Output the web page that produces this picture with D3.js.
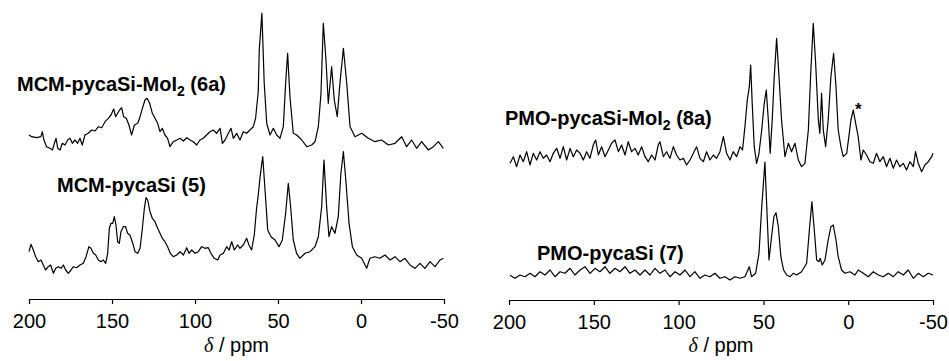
<!DOCTYPE html>
<html>
<head>
<meta charset="utf-8">
<script src="https://cdn.jsdelivr.net/npm/d3@7"></script>
<style>
  body { margin: 0; background: #fff; }
  text { font-family: "Liberation Sans", Arial, sans-serif; fill: #000; }
</style>
</head>
<body>
<div id="chart"></div>
<script>
// chemical shift axis (ppm) shared by both panels
const ppmTicks = [200, 150, 100, 50, 0, -50];

// spectra as [ppm, intensity] pairs, intensity in arbitrary units above each trace's own baseline
const spec6a = [[200,5],[198.4,3.3],[195.4,2.3],[192.8,3.3],[192,8.3],[191,0],[189.4,-6.7],[187.4,-8.3],[185.9,-10],[184.7,-3.3],
  [183.7,1.7],[182.7,-8.3],[181.3,-10],[179.9,-3.3],[178.3,-5],[176.7,0],[175.3,1.7],[173.9,-3.3],[172.3,0],[170.7,-3.3],
  [169.3,1.7],[167.9,-5],[166.3,5],[164.3,6.7],[162.2,10],[160.2,9],[158.2,13.3],[156.2,12.3],[154.2,18.3],[152.2,21.7],
  [150.6,25],[149,31],[147.8,23.3],[146.6,26.7],[145.4,30],[144.2,32.3],[143,23.3],[141.4,21.7],[139.8,15],[138.2,5],
  [136.5,15],[134.5,16.7],[133.1,23.3],[131.7,31.7],[130.1,40],[128.9,41.7],[127.3,36.7],[125.7,26.7],[124.1,21.7],[122.5,16.7],
  [121.1,8.3],[119.7,11.7],[118.1,5],[116.5,1.7],[115.1,-6.7],[113.1,-1.7],[111,0],[109,1.7],[107,-1],[105,2.3],
  [103,0],[101,-1.7],[99,-5],[97,0],[95,1.7],[93,5],[91,8.3],[89,10],[87,6.7],[84.9,11.7],
  [83.5,-3.3],[81.9,0],[79.9,6.7],[78.3,11.7],[76.9,1.7],[74.9,6.7],[72.9,0],[70.9,8.3],[68.9,6.7],[66.9,10],
  [64.9,13.3],[63.5,21.7],[61.9,48.3],[61.3,90],[59.7,126.7],
  [58.3,56.7],[56.8,16.7],[54.8,5],[52.8,11.7],[50.8,5],[48.8,1.7],[46.8,13.3],[45.4,56.7],[44.2,86.7],[42.8,43.3],
  [40.8,6.7],[38.8,5],[35.7,0],[32.7,-6.7],[29.7,-5],[27.7,-1.7],[25.7,13.3],[24.1,46.7],[22.7,116.7],[21.1,80],
  [19.7,36.7],[17.7,73.3],[16.1,40],[14.3,23.3],[12.7,56.7],[10.6,91.7],[8.6,56.7],[6.6,13.3],[3.6,3.3],[-0.4,6.7],
  [-4.4,1.7],[-8.4,-1.7],[-12.4,0],[-16.5,-5],[-20.5,-3.3],[-24.5,3.3],[-27.5,-6.7],[-30.5,0],[-33.5,-8.3],[-36.5,-1.7],
  [-40.6,-10],[-43.6,-6.7],[-46.6,-1.7],[-49.6,-8.3]];

const spec5 = [[200,6.3],[198.8,13.7],[197.4,8],[196,1.3],[194.4,-3.7],[192.8,-2],[191.4,-7],[190,-12],[188.4,-8.7],[187,-7],
  [185.3,-15.3],[183.9,-10.3],[182.3,-8.7],[180.7,-10.3],[179.3,-7],[177.9,-12],[176.3,-15.3],[174.7,-12],[173.3,-8.7],[171.3,-9.7],
  [169.3,-7],[167.3,-5.3],[165.7,1],[163.9,11.3],[162.7,9.7],[161.2,4.7],[159.8,3],[158.2,-2],[156.6,-3.7],[155.2,-2],
  [153.8,-5.3],[152.6,4.7],[151.6,29.7],[150.6,34.7],[149.6,34.7],[148.6,41.3],[147.6,33],[146.6,16.3],[145.6,14.7],[144.6,26.3],
  [143.2,31.3],[141.8,31.3],[140.6,24.7],[139.2,23],[137.8,16.3],[136.1,6.3],[134.5,4.7],[133.1,9.7],[131.7,29.7],[130.5,49.7],
  [129.5,60.3],[128.5,58],[127.1,46.3],[125.7,39.7],[124.1,36.3],[122.5,29.7],[121.1,24.7],[119.7,19.7],[118.1,16.3],[116.5,11.3],
  [114.9,4.7],[113.1,1.3],[111,3],[109,6.3],[107,3],[105,10.3],[103.6,4.7],[102,8],[100,4.7],[98,6.3],
  [96,11.3],[94,9.7],[92,10.3],[90.4,4.7],[88.4,-0.3],[86.3,-2],[84.9,3],[82.9,4.7],[80.9,11.3],[79.5,8],
  [77.9,16.3],[76.3,8],[74.3,13],[72.9,9.7],[70.9,13],[68.9,19.7],[67.5,13],[65.9,8],[64.3,23],[62.9,49.7],
  [61.9,63],[60.8,81.3],[59.2,101.3],[57.8,68],[56.2,28],[54.2,21.3],[51.8,18],[49.4,11.3],[47.4,18],[45.4,44.7],[43.8,74.7],
  [42.4,51.3],[40.8,18],[38.8,4.7],[36.8,-0.3],[33.7,4.7],[30.7,6.3],[27.7,11.3],[25.7,21.3],[23.7,51.3],[22.3,98],
  [20.7,51.3],[19.3,21.3],[17.7,31.3],[15.7,24.7],[13.7,41.3],[12.1,84.7],[10.6,106.3],[9,74.7],[7.2,34.7],[5.2,11.3],
  [2.6,3],[-0.4,-0.3],[-3.4,-10.3],[-5.4,-0.3],[-8.4,1.3],[-11.4,-0.3],[-14.4,3],[-17.5,-2],[-20.5,1.3],[-23.5,-3.7],
  [-26.5,-0.3],[-29.5,-7],[-32.5,-10.3],[-35.5,-5.3],[-38.5,-10.3],[-41.6,-3.7],[-44.6,-8.7],[-47.6,-2],[-49.6,-0.3]];

const spec8a = [[199.4,-8.3],[197.4,-1.7],[195.5,-11.7],[193.5,0],[191.6,-6.7],[189.6,3.3],[187.6,-10],[185.7,1.7],[183.7,-5],[181.7,3.3],
  [179.8,-3.3],[177.8,0],[175.8,-6.7],[173.9,1.7],[171.9,6.7],[169.9,-3.3],[168,8.3],[166,-5],[164,6.7],[162.1,-1.7],
  [160.1,5],[158.1,1.7],[156.2,-5],[154.2,3.3],[152.3,-3.3],[150.3,10],[148.9,15],[147.3,0],[145.4,8.3],[143.4,-1.7],
  [141.4,5],[139.5,11.7],[137.5,15],[135.5,3.3],[133.6,10],[131.6,0],[129.7,13.3],[127.7,3.3],[125.7,6.7],[123.8,0],
  [121.8,8.3],[119.8,-1.7],[117.9,-6.7],[115.9,0],[113.9,-5],[112,10],[111,13.3],[109,-1.7],[107.1,3.3],[105.1,-3.3],
  [103.1,8.3],[101.2,0],[99.2,-5],[97.2,-3.3],[95.3,-10],[93.3,-5],[91.3,1.7],[89.4,8.3],[87.4,-3.3],[85.4,-6.7],
  [83.5,3.3],[81.5,-5],[79.5,0],[77.6,-3.3],[75.6,3.3],[73.6,18.3],[71.7,1.7],[69.7,-5],[67.8,3.3],[65.8,-1.7],
  [63.8,8.3],[62.3,5],[60.9,28.3],[59.5,55],[58.3,68.3],[57.5,90],[56.6,51.7],[55.4,8.3],[54,-8.3],[52.6,1.7],
  [51,25],[49.5,51.7],[48.3,65],[47.1,35],[46,1.7],[44.8,35],[43.6,78.3],[42.2,116.7],[40.8,78.3],[39.3,35],
  [37.3,-1.7],[35.3,11.7],[33.4,3.3],[31.4,11.7],[29.4,-5],[27.5,-11.7],[25.5,-8.3],[23.5,25],[22,85],[20.6,131.7],
  [19.2,91.7],[17.6,35],[16.7,21.7],[15.7,61.7],[14.7,25],[13.3,8.3],[11.8,35],[10.2,78.3],[8.6,101.7],[7.2,68.3],
  [5.9,25],[4.3,8.3],[2.9,-1.7],[0.9,1.7],[-0.4,18.3],[-1.6,35],[-3,45],[-4.4,31.7],[-5.9,18.3],[-7.5,-5],
  [-8.9,5],[-10.8,0],[-12.8,-6.7],[-14.8,-8.3],[-16.7,1.7],[-18.7,-6.7],[-20.7,-1.7],[-22.6,-11.7],[-24.6,-3.3],[-26.6,-13.3],
  [-28.5,-5],[-30.5,-11.7],[-32.5,-8.3],[-34.4,-15],[-36.4,-6.7],[-38.4,-11.7],[-39.7,3.3],[-41.3,-8.3],[-43.3,-16.7],[-45.2,-10],
  [-47.2,-6.7],[-49.2,-1.7],[-50,1.7]];

const spec7 = [[199.4,0.7],[196.5,-2.3],[193.5,1],[190.6,-0.7],[187.6,2.7],[184.7,-0.7],[181.7,4.3],[178.8,1],[175.8,6],[172.9,-0.7],
  [169.9,4.3],[167,2.7],[164,7.7],[161.1,1],[158.1,6],[155.2,9.3],[152.2,2.7],[149.3,7.7],[146.4,4.3],[143.4,9.3],
  [140.5,2.7],[137.5,7.7],[134.6,4.3],[131.6,9.3],[128.7,2.7],[125.7,6],[122.8,1],[119.8,6],[116.9,1],[113.9,7.7],
  [111,2.7],[108,6],[105.1,-0.7],[102.1,4.3],[99.2,1],[96.2,6],[93.3,-0.7],[90.4,4.3],[87.4,-2.3],[84.5,1],
  [81.5,-0.7],[78.6,2.7],[75.6,-2.3],[72.7,-0.7],[69.7,-4],[66.8,-0.7],[63.8,-2.3],[60.9,-0.7],[58.3,9.3],[57,-0.7],
  [54.6,2.7],[52.6,22.7],[51.1,66],[49.1,114],[48.1,72.7],[46.7,16],[45.2,39.3],[43.8,59.3],[42.6,63.3],[41.2,49.3],
  [39.7,19.3],[38.1,6],[36.3,1],[34.3,-0.7],[32.4,2.7],[30.4,1],[27.5,4.3],[24.5,12.7],[22.9,46],[21.4,74.3],
  [20,46],[18.6,16],[17.3,14.3],[16.5,17.7],[15.3,11],[13.7,16],[11.8,36],[10.2,49.3],[8.8,51],[7.2,36],
  [5.9,19.3],[3.9,6],[1.9,2.7],[-1,4.3],[-4,1],[-5.9,6],[-8.9,2.7],[-11.8,-0.7],[-14.8,4.3],[-17.7,1],
  [-20.7,-0.7],[-23.6,2.7],[-26.6,-0.7],[-29.5,4.3],[-32.5,1],[-35.4,6],[-38.4,-2.3],[-41.3,2.7],[-44.3,-0.7],[-47.2,2.7],
  [-50,1]];

const W = 949, H = 361;

const svg = d3.select('#chart')
  .append('svg')
  .attr('width', W)
  .attr('height', H);

svg.append('rect').attr('width', W).attr('height', H).attr('fill', '#fff');

// the two panels: each has its own ppm scale, and two stacked traces
const panels = [
  {
    range: [29, 444], axisY: 299,
    traces: [
      { data: spec6a, offset: 159, label: ['MCM-pycaSi-MoI', '2', ' (6a)'], lx: 17, ly: 91 },
      { data: spec5, offset: 41, label: ['MCM-pycaSi (5)'], lx: 57, ly: 192 }
    ]
  },
  {
    range: [509, 933], axisY: 300,
    traces: [
      { data: spec8a, offset: 145, label: ['PMO-pycaSi-MoI', '2', ' (8a)'], lx: 505, ly: 125 },
      { data: spec7, offset: 24, label: ['PMO-pycaSi (7)'], lx: 537, ly: 260 }
    ]
  }
];

panels.forEach(p => {
  const x = d3.scaleLinear().domain([200, -50]).range(p.range);
  const y = d3.scaleLinear().domain([0, p.axisY]).range([p.axisY, 0]);

  const g = svg.append('g');

  // ppm axis
  const axis = g.append('g')
    .attr('transform', `translate(0, ${p.axisY})`)
    .call(d3.axisBottom(x)
      .tickValues(ppmTicks)
      .tickFormat(d => String(d))
      .tickSize(5)
      .tickSizeOuter(0)
      .tickPadding(10));
  axis.select('.domain').attr('stroke', '#000').attr('stroke-width', 1.2);
  axis.selectAll('.tick line').attr('stroke', '#000').attr('stroke-width', 1.2);
  axis.selectAll('text')
    .style('font-family', '"Liberation Sans", Arial, sans-serif')
    .style('font-size', '20px')
    .attr('fill', '#000');

  // axis title: italic delta / ppm
  const xt = g.append('text')
    .attr('x', (p.range[0] + p.range[1]) / 2)
    .attr('y', 352)
    .attr('text-anchor', 'middle')
    .style('font-size', '20px');
  xt.append('tspan')
    .style('font-family', '"Liberation Serif", "Times New Roman", serif')
    .style('font-style', 'italic')
    .text('δ');
  xt.append('tspan').text(' / ppm');

  // traces
  p.traces.forEach(t => {
    const line = d3.line()
      .x(d => x(d[0]))
      .y(d => y(d[1] + t.offset));

    g.append('path')
      .datum(t.data)
      .attr('fill', 'none')
      .attr('stroke', '#000')
      .attr('stroke-width', 1.2)
      .attr('stroke-linejoin', 'round')
      .attr('d', line);

    const lab = g.append('text')
      .attr('x', t.lx)
      .attr('y', t.ly)
      .style('font-size', '20px')
      .style('font-weight', 'bold');
    lab.append('tspan').text(t.label[0]);
    if (t.label.length > 1) {
      lab.append('tspan').attr('dy', 5).style('font-size', '14px').text(t.label[1]);
      lab.append('tspan').attr('dy', -5).text(t.label[2]);
    }
  });
});

// asterisk marking the impurity peak in 8a
svg.append('text')
  .attr('x', 855)
  .attr('y', 115)
  .style('font-size', '17px')
  .style('font-weight', 'bold')
  .text('*');
</script>
</body>
</html>
